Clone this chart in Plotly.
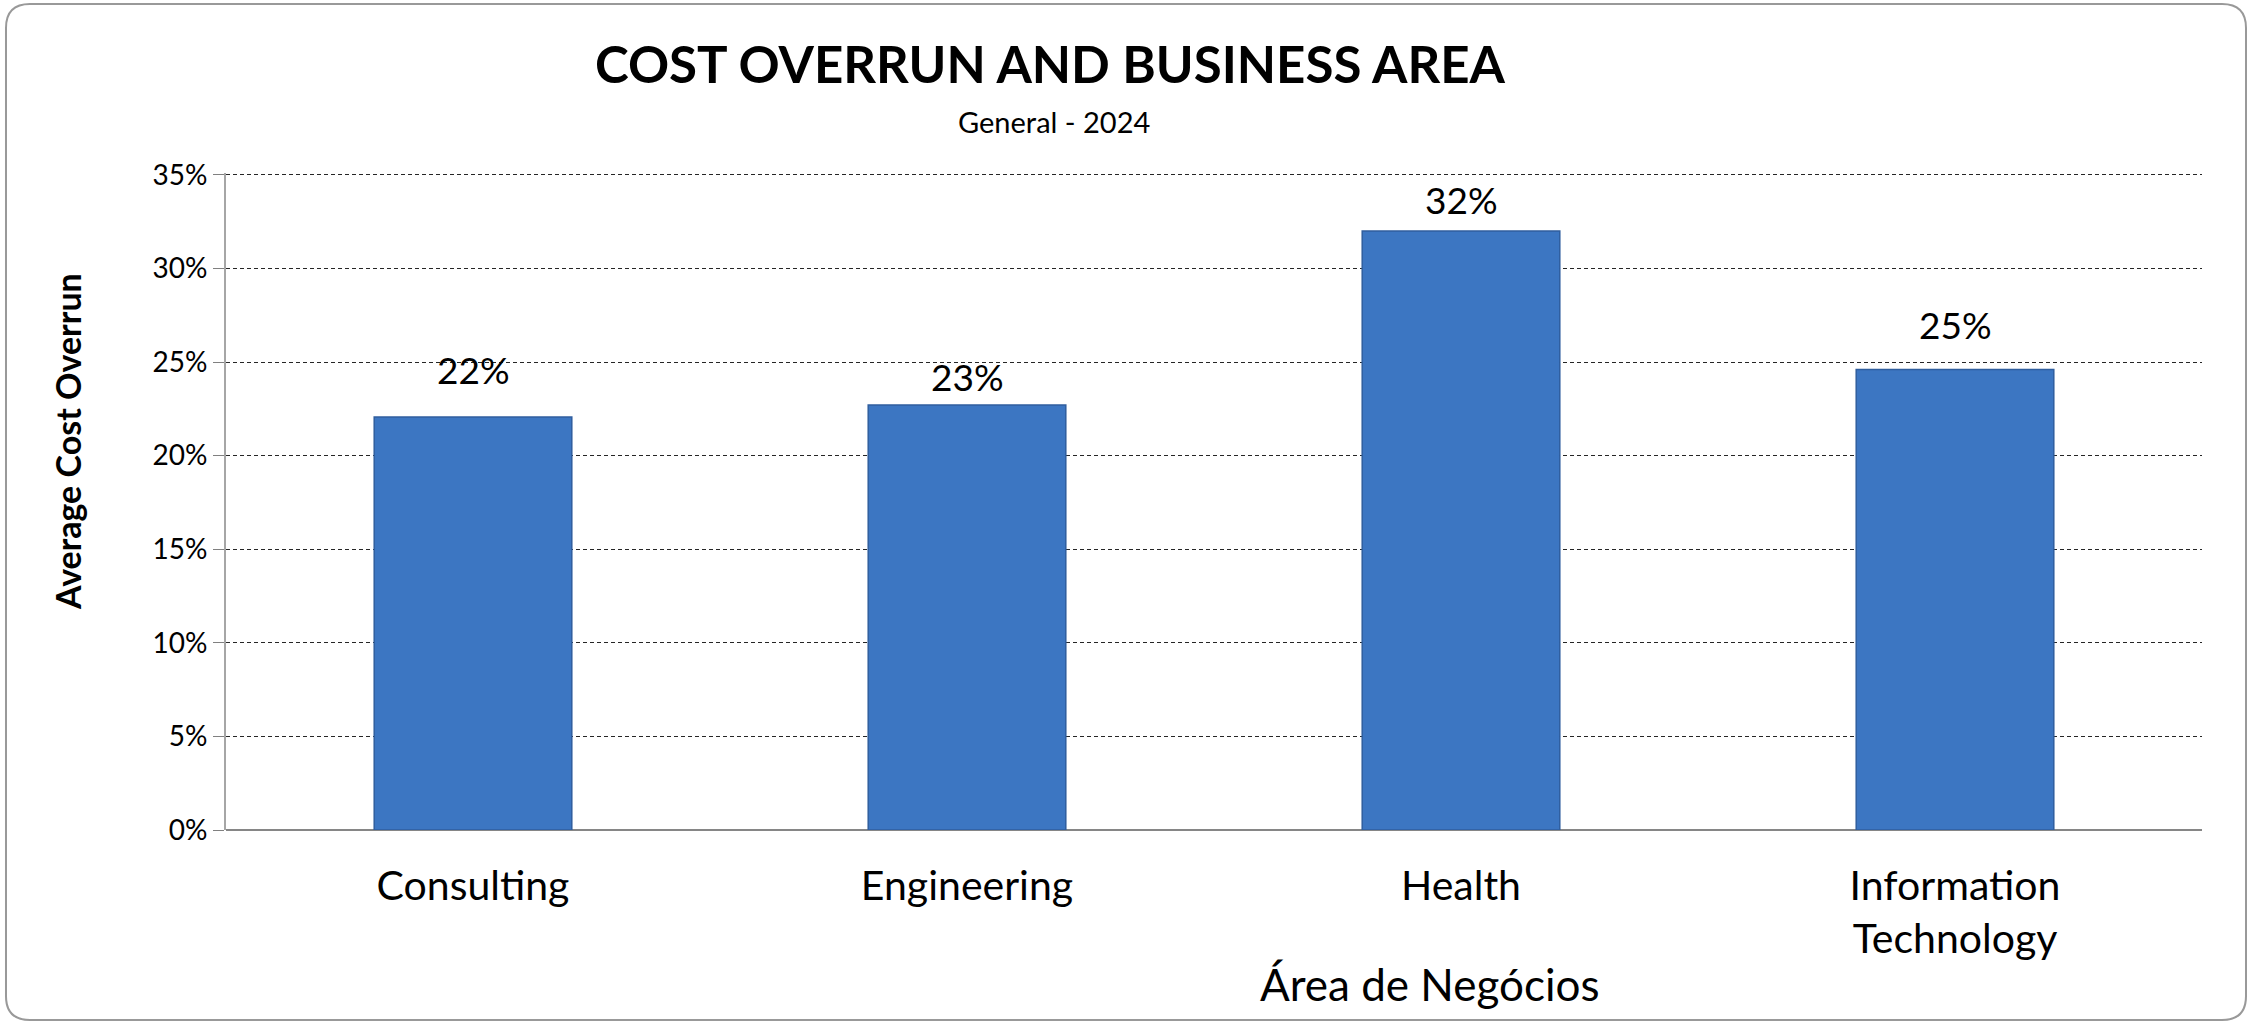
import plotly.graph_objects as go

# Average cost overrun by business area
categories = ["Consulting", "Engineering", "Health", "Information Technology"]
category_labels = ["Consulting", "Engineering", "Health", "Information<br>Technology"]
avg_overrun = [0.2207, 0.2270, 0.3200, 0.2460]
y_ticks = [0.0, 0.05, 0.10, 0.15, 0.20, 0.25, 0.30, 0.35]

# pixel gap between each bar top and the centre of its value label
label_gap_px = [47, 29, 32, 45]

W, H = 2252, 1025
Y_MAX = 0.351
L, R, B = 226, 50, 195
T = 175 - round(655 * (Y_MAX - 0.35) / 0.35)
PW, PH = W - L - R, H - T - B

FONT = "Lato, Carlito, Calibri, 'Open Sans', sans-serif"
BAR_COLOR = "#3C76C2"


def px_to_paper(x, y):
    """Convert page pixels to paper coordinates of the plot area."""
    return (x - L) / PW, (H - B - y) / PH


def rounded_rect_path(x0, y0, x1, y1, r):
    def p(x, y):
        px, py = px_to_paper(x, y)
        return f"{px:.5f},{py:.5f}"
    parts = [
        "M " + p(x0 + r, y0),
        "L " + p(x1 - r, y0),
        "Q " + p(x1, y0) + " " + p(x1, y0 + r),
        "L " + p(x1, y1 - r),
        "Q " + p(x1, y1) + " " + p(x1 - r, y1),
        "L " + p(x0 + r, y1),
        "Q " + p(x0, y1) + " " + p(x0, y1 - r),
        "L " + p(x0, y0 + r),
        "Q " + p(x0, y0) + " " + p(x0 + r, y0),
    ]
    return " ".join(parts) + " Z"


fig = go.Figure()

fig.add_trace(go.Bar(
    x=categories,
    y=avg_overrun,
    width=0.4,
    marker=dict(color=BAR_COLOR, line=dict(color="#2F5E9E", width=1.5)),
    hovertemplate="%{x}: %{y:.0%}<extra></extra>",
))

# value labels above each bar
for cat, v, gap in zip(categories, avg_overrun, label_gap_px):
    fig.add_annotation(
        x=cat, y=v, xref="x", yref="y",
        text=f"{v:.0%}", showarrow=False,
        yanchor="middle", yshift=gap,
        font=dict(family=FONT, size=37, color="#000000"),
    )

# subtitle
sx, sy = px_to_paper(1054, 121)
fig.add_annotation(x=sx, y=sy, xref="paper", yref="paper", text="General - 2024",
                   showarrow=False, xanchor="center", yanchor="middle",
                   font=dict(family=FONT, size=29, color="#000000"))

# y-axis title
ax, ay = px_to_paper(67, 442)
fig.add_annotation(x=ax, y=ay, xref="paper", yref="paper", text="<b>Average Cost Overrun</b>",
                   showarrow=False, textangle=-90, xanchor="center", yanchor="middle",
                   font=dict(family=FONT, size=34, color="#000000"))

# x-axis title
bx, by = px_to_paper(1430, 984)
fig.add_annotation(x=bx, y=by, xref="paper", yref="paper", text="Área de Negócios",
                   showarrow=False, xanchor="center", yanchor="middle",
                   font=dict(family=FONT, size=44, color="#000000"))

# chart frame
fig.add_shape(type="path", xref="paper", yref="paper",
              path=rounded_rect_path(6, 4, 2246, 1020, 24),
              line=dict(color="#999999", width=2), fillcolor="rgba(0,0,0,0)", layer="below")

fig.update_layout(
    width=W, height=H,
    margin=dict(l=L, r=R, t=T, b=B),
    paper_bgcolor="white", plot_bgcolor="white",
    showlegend=False,
    title=dict(text="<b>COST OVERRUN AND BUSINESS AREA</b>",
               x=1050 / W, xref="container", xanchor="center",
               y=1 - 65 / H, yref="container", yanchor="middle",
               font=dict(family=FONT, size=51, color="#000000")),
    xaxis=dict(
        tickmode="array", tickvals=categories, ticktext=category_labels,
        tickfont=dict(family=FONT, size=41, color="#000000"),
        ticks="", ticklabelstandoff=28,
        showgrid=False, showline=False, zeroline=False,
    ),
    yaxis=dict(
        range=[0, Y_MAX], tickvals=y_ticks, tickformat=".0%",
        tickfont=dict(family=FONT, size=28, color="#000000"),
        ticks="outside", ticklen=11, tickcolor="#808080", tickwidth=1,
        showgrid=True, gridcolor="#262626", gridwidth=1, griddash="4px,3px",
        showline=True, linecolor="#A6A6A6", linewidth=2,
        zeroline=True, zerolinecolor="#868686", zerolinewidth=1.5,
    ),
)

fig.write_html("out.html")
